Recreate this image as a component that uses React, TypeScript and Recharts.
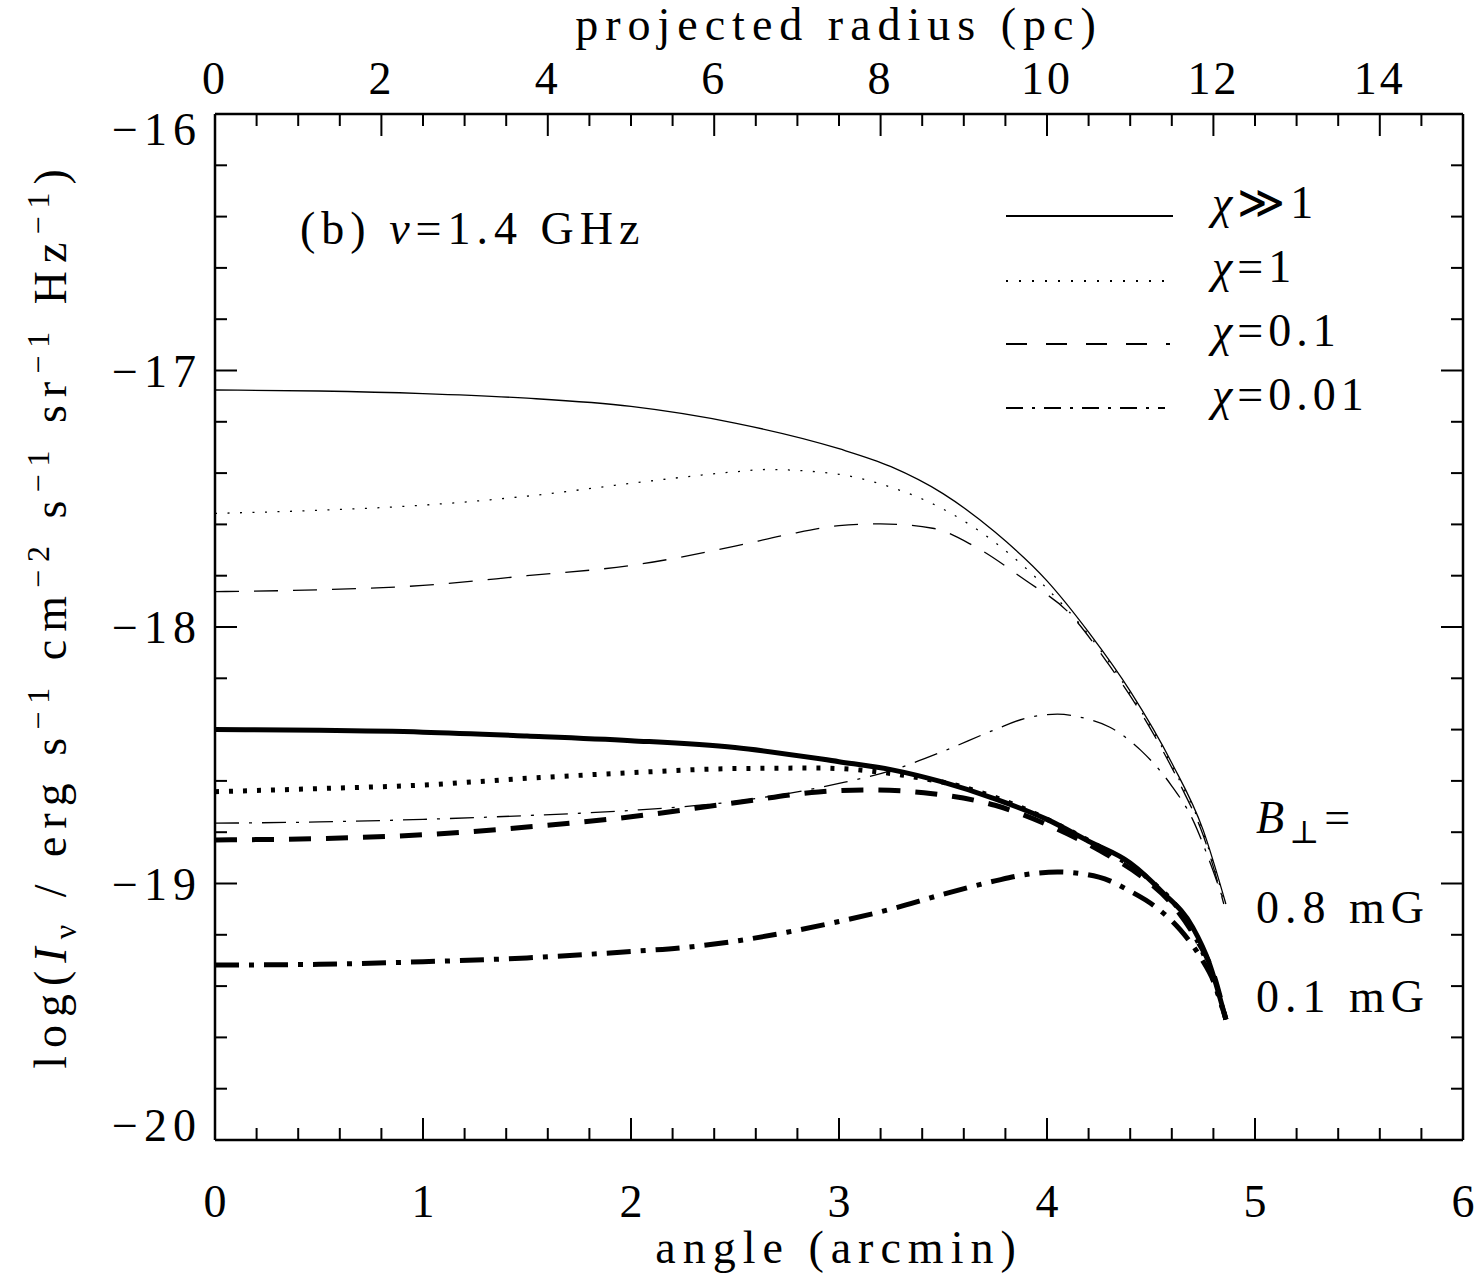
import React from 'react';
import { LineChart, Line, XAxis, YAxis } from 'recharts';

const FONT = '"Liberation Serif", "DejaVu Serif", serif';

// ---- axis tick values ----
const angleMajor = [0, 1, 2, 3, 4, 5, 6];
const radiusMajor = [0, 2, 4, 6, 8, 10, 12, 14];
const logMajor = [-20, -19, -18, -17, -16];
const angleMinorStep = 0.2;
const radiusMinorStep = 0.5;
const logMinorStep = 0.2;
const PC_PER_ARCMIN = 2.5; // 6 arcmin = 15 pc

// ---- series: angle (arcmin) and log intensity ----
// B = 0.8 mG
const angleS08 = [0, 0.5, 1, 1.5, 2, 2.5, 3, 3.25, 3.5, 3.75, 4, 4.2, 4.4, 4.6, 4.75, 4.86];
const logS08 = [-17.076, -17.08, -17.09, -17.108, -17.14, -17.205, -17.305, -17.375, -17.48, -17.63, -17.82, -18.02, -18.25, -18.53, -18.79, -19.08];

const angleD08 = [0, 0.5, 1, 1.5, 2, 2.5, 2.65, 3, 3.25, 3.5, 3.75, 4, 4.2, 4.4, 4.6, 4.75, 4.86];
const logD08 = [-17.557, -17.545, -17.525, -17.49, -17.44, -17.395, -17.386, -17.405, -17.455, -17.54, -17.67, -17.85, -18.03, -18.26, -18.54, -18.8, -19.09];

const angleA08 = [0, 0.5, 1, 1.5, 2, 2.5, 2.75, 3, 3.2, 3.45, 3.65, 3.9, 4.1, 4.3, 4.5, 4.65, 4.75, 4.85];
const logA08 = [-17.862, -17.855, -17.838, -17.8, -17.76, -17.685, -17.64, -17.605, -17.598, -17.615, -17.685, -17.82, -17.94, -18.15, -18.4, -18.63, -18.81, -19.08];

const angleC08 = [0, 0.5, 1, 1.5, 2, 2.5, 3, 3.25, 3.5, 3.75, 3.9, 4.05, 4.2, 4.3, 4.45, 4.6, 4.7, 4.78, 4.85];
const logC08 = [-18.765, -18.76, -18.75, -18.735, -18.715, -18.68, -18.61, -18.56, -18.485, -18.4, -18.355, -18.34, -18.36, -18.39, -18.48, -18.62, -18.75, -18.91, -19.07];

// B = 0.1 mG
const angleS01 = [0, 0.5, 1, 1.5, 2, 2.5, 3, 3.25, 3.5, 3.75, 4, 4.2, 4.4, 4.55, 4.7, 4.78, 4.86];
const logS01 = [-18.4, -18.403, -18.41, -18.425, -18.443, -18.47, -18.525, -18.556, -18.605, -18.67, -18.75, -18.835, -18.92, -19.03, -19.17, -19.31, -19.53];

const angleD01 = [0, 0.5, 1, 1.5, 2, 2.5, 2.9, 3.3, 3.6, 3.85, 4.1, 4.3, 4.5, 4.65, 4.77, 4.86];
const logD01 = [-18.642, -18.63, -18.616, -18.59, -18.568, -18.552, -18.55, -18.577, -18.625, -18.695, -18.79, -18.88, -18.99, -19.12, -19.31, -19.53];

const angleA01 = [0, 0.5, 1, 1.5, 2, 2.5, 2.9, 3.15, 3.45, 3.75, 4, 4.25, 4.45, 4.6, 4.72, 4.8, 4.86];
const logA01 = [-18.83, -18.825, -18.81, -18.78, -18.74, -18.685, -18.643, -18.635, -18.65, -18.695, -18.77, -18.87, -18.97, -19.08, -19.22, -19.35, -19.53];

const angleC01 = [0, 0.5, 1, 1.5, 2, 2.25, 2.5, 2.75, 3, 3.25, 3.5, 3.75, 3.9, 4.05, 4.25, 4.4, 4.52, 4.64, 4.74, 4.8, 4.86];
const logC01 = [-19.318, -19.315, -19.305, -19.29, -19.265, -19.25, -19.225, -19.19, -19.148, -19.1, -19.042, -18.99, -18.965, -18.955, -18.975, -19.03, -19.09, -19.18, -19.29, -19.38, -19.53];

const legendLabels = ['\u226B1', '=1', '=0.1', '=0.01'];

const toPoints = (xs: number[], ys: number[]) => xs.map((x, i) => ({ x, y: ys[i] }));

const THIN = 1.3;
const THICK = 5;
const DASH_SOLID = undefined;
const DASH_DOT_THIN = '2 10.5';
const DASH_DASH_THIN = '24 15';
const DASH_DD_THIN = '24 10 3 10';
const DASH_DOT_THICK = '4 10';
const DASH_DASH_THICK = '22 15';
const DASH_DD_THICK = '24 10 5 10';

const series = [
  { key: 's08', data: toPoints(angleS08, logS08), w: THIN, dash: DASH_SOLID },
  { key: 'd08', data: toPoints(angleD08, logD08), w: THIN, dash: DASH_DOT_THIN },
  { key: 'a08', data: toPoints(angleA08, logA08), w: THIN, dash: DASH_DASH_THIN },
  { key: 'c08', data: toPoints(angleC08, logC08), w: THIN, dash: DASH_DD_THIN },
  { key: 's01', data: toPoints(angleS01, logS01), w: THICK, dash: DASH_SOLID },
  { key: 'd01', data: toPoints(angleD01, logD01), w: THICK, dash: DASH_DOT_THICK },
  { key: 'a01', data: toPoints(angleA01, logA01), w: THICK, dash: DASH_DASH_THICK },
  { key: 'c01', data: toPoints(angleC01, logC01), w: THICK, dash: DASH_DD_THICK },
];

// same curve expressed in projected radius, used only to bind the top axis
const radiusRef = toPoints(angleS08.map((a) => a * PC_PER_ARCMIN), logS08);

const legendDash = [undefined, '2 11', '21 19', '17 9 3 9'];

const range = (a: number, b: number, step: number) => {
  const out: number[] = [];
  const n = Math.round((b - a) / step);
  for (let i = 0; i <= n; i++) out.push(Math.round((a + i * step) * 1000) / 1000);
  return out;
};

const angleTicks = range(0, 6, angleMinorStep);
const radiusTicks = range(0, 15, radiusMinorStep);
const logTicks = range(-20, -16, logMinorStep);

const isMajor = (v: number, majors: number[]) => majors.some((m) => Math.abs(m - v) < 1e-6);
const fmt = (v: number) => (v < 0 ? '\u2212' + Math.abs(v) : String(v));

const MAJOR = 22;
const MINOR = 12;
const TICK_W = 2;

const textStyle: React.CSSProperties = { fontFamily: FONT, fontSize: 46, fill: '#000' };

const BottomTick = (p: any) => {
  const { x, y, payload } = p;
  const major = isMajor(payload.value, angleMajor);
  return (
    <g>
      <line x1={x} x2={x} y1={y} y2={y - (major ? MAJOR : MINOR)} stroke="#000" strokeWidth={TICK_W} />
      {major && (
        <text x={x} y={y + 77} textAnchor="middle" style={textStyle}>
          {fmt(payload.value)}
        </text>
      )}
    </g>
  );
};

const TopTick = (p: any) => {
  const { x, y, payload } = p;
  const major = isMajor(payload.value, radiusMajor);
  return (
    <g>
      <line x1={x} x2={x} y1={y} y2={y + (major ? MAJOR : MINOR)} stroke="#000" strokeWidth={TICK_W} />
      {major && (
        <text x={x} y={y - 20} textAnchor="middle" style={{ ...textStyle, letterSpacing: 3 }}>
          {fmt(payload.value)}
        </text>
      )}
    </g>
  );
};

const LeftTick = (p: any) => {
  const { x, y, payload } = p;
  const v = payload.value;
  const major = isMajor(v, logMajor);
  let base = y + 16;
  if (Math.abs(v - -16) < 1e-6) base = y + 31;
  if (Math.abs(v - -20) < 1e-6) base = y + 1;
  return (
    <g>
      <line x1={x} x2={x + (major ? MAJOR : MINOR)} y1={y} y2={y} stroke="#000" strokeWidth={TICK_W} />
      {major && (
        <text x={x - 13} y={base} textAnchor="end" style={{ ...textStyle, letterSpacing: 6 }}>
          {fmt(v)}
        </text>
      )}
    </g>
  );
};

const RightTick = (p: any) => {
  const { x, y, payload } = p;
  const major = isMajor(payload.value, logMajor);
  return <line x1={x} x2={x - (major ? MAJOR : MINOR)} y1={y} y2={y} stroke="#000" strokeWidth={TICK_W} />;
};

const W = 1479;
const H = 1281;
const PLOT = { left: 215, right: 1463, top: 114, bottom: 1140 };
const LEFT_W = 100;
const RIGHT_W = 10;
const TOP_H = 50;
const BOTTOM_H = 60;

const sup = (t: string, k: string) => (
  <tspan key={k} dy={-17} fontSize={32}>
    {t}
  </tspan>
);

export default function App() {
  const cx = (PLOT.left + PLOT.right) / 2;
  const cy = 615;
  const ylx = 66;
  return (
    <div style={{ position: 'absolute', left: 0, top: 0, width: W, height: H, background: '#fff' }}>
      <LineChart
        width={W}
        height={H}
        margin={{
          top: PLOT.top - TOP_H,
          left: PLOT.left - LEFT_W,
          right: W - PLOT.right - RIGHT_W,
          bottom: H - PLOT.bottom - BOTTOM_H,
        }}
      >
        <XAxis
          xAxisId="bottom"
          type="number"
          dataKey="x"
          domain={[0, 6]}
          allowDataOverflow
          ticks={angleTicks}
          interval={0}
          tick={BottomTick}
          tickLine={false}
          tickSize={0}
          tickMargin={0}
          height={BOTTOM_H}
          axisLine={{ stroke: '#000', strokeWidth: 2.5 }}
        />
        <XAxis
          xAxisId="top"
          orientation="top"
          type="number"
          dataKey="x"
          domain={[0, 15]}
          allowDataOverflow
          ticks={radiusTicks}
          interval={0}
          tick={TopTick}
          tickLine={false}
          tickSize={0}
          tickMargin={0}
          height={TOP_H}
          axisLine={{ stroke: '#000', strokeWidth: 2.5 }}
        />
        <YAxis
          yAxisId="left"
          type="number"
          domain={[-20, -16]}
          allowDataOverflow
          ticks={logTicks}
          interval={0}
          tick={LeftTick}
          tickLine={false}
          tickSize={0}
          tickMargin={0}
          width={LEFT_W}
          axisLine={{ stroke: '#000', strokeWidth: 2.5 }}
        />
        <YAxis
          yAxisId="right"
          orientation="right"
          type="number"
          domain={[-20, -16]}
          allowDataOverflow
          ticks={logTicks}
          interval={0}
          tick={RightTick}
          tickLine={false}
          tickSize={0}
          tickMargin={0}
          width={RIGHT_W}
          axisLine={{ stroke: '#000', strokeWidth: 2.5 }}
        />
        <Line
          xAxisId="top"
          yAxisId="right"
          data={radiusRef}
          dataKey="y"
          type="monotone"
          stroke="none"
          strokeWidth={0}
          dot={false}
          activeDot={false}
          isAnimationActive={false}
          legendType="none"
        />
        {series.map((s) => (
          <Line
            key={s.key}
            xAxisId="bottom"
            yAxisId="left"
            data={s.data}
            dataKey="y"
            type="monotone"
            stroke="#000"
            strokeWidth={s.w}
            strokeDasharray={s.dash}
            strokeLinecap="butt"
            dot={false}
            activeDot={false}
            isAnimationActive={false}
          />
        ))}

        {/* axis titles */}
        <text x={cx} y={40} textAnchor="middle" style={{ ...textStyle, letterSpacing: 7 }}>
          projected radius (pc)
        </text>
        <text x={cx} y={1263} textAnchor="middle" style={{ ...textStyle, letterSpacing: 7 }}>
          angle (arcmin)
        </text>
        <text
          x={ylx}
          y={cy}
          textAnchor="middle"
          transform={`rotate(-90 ${ylx} ${cy})`}
          style={{ ...textStyle, letterSpacing: 8 }}
        >
          log(<tspan fontStyle="italic">I</tspan>
          <tspan dy={10} fontSize={32}>ν</tspan>
          <tspan dy={-10}> / erg s</tspan>
          {sup('\u22121', 'a')}
          <tspan dy={17}> cm</tspan>
          {sup('\u22122', 'b')}
          <tspan dy={17}> s</tspan>
          {sup('\u22121', 'c')}
          <tspan dy={17}> sr</tspan>
          {sup('\u22121', 'd')}
          <tspan dy={17}> Hz</tspan>
          {sup('\u22121', 'e')}
          <tspan dy={17}>)</tspan>
        </text>

        {/* panel label */}
        <text x={300} y={244} style={{ ...textStyle, letterSpacing: 6 }}>
          (b) <tspan fontStyle="italic">ν</tspan>=1.4 GHz
        </text>

        {/* legend */}
        {legendLabels.map((lab, i) => {
          const ly = [216, 281, 344, 408][i];
          const by = [218, 282, 346, 410][i];
          const x2 = [1173, 1168, 1170, 1165][i];
          return (
            <g key={lab}>
              <line x1={1006} x2={x2} y1={ly} y2={ly} stroke="#000" strokeWidth={2} strokeDasharray={legendDash[i]} />
              <text x={1212} y={by} style={{ ...textStyle, letterSpacing: 5 }}>
                <tspan fontStyle="italic">χ</tspan>
                {lab}
              </text>
            </g>
          );
        })}

        {/* field strength annotations */}
        <text x={1256} y={833} style={{ ...textStyle, letterSpacing: 5 }}>
          <tspan fontStyle="italic">B</tspan>
          <tspan dy={10} fontSize={32}>⊥</tspan>
          <tspan dy={-10}>=</tspan>
        </text>
        <text x={1256} y={923} style={{ ...textStyle, letterSpacing: 6 }}>
          0.8 mG
        </text>
        <text x={1256} y={1012} style={{ ...textStyle, letterSpacing: 6 }}>
          0.1 mG
        </text>
      </LineChart>
    </div>
  );
}
